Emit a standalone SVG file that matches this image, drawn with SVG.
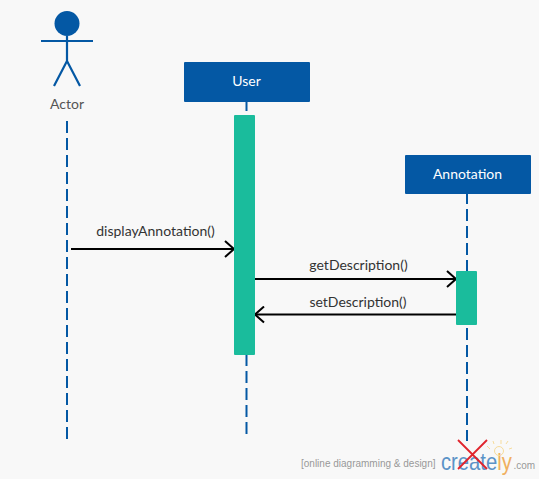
<svg xmlns="http://www.w3.org/2000/svg" width="539" height="479" viewBox="0 0 539 479">
<style>
.bg{fill:#f8f8f8}
.life{fill:none;stroke:#0458a4;stroke-width:2;stroke-dasharray:12 5}
.box{fill:#0458a4}
.act{fill:#1abc9c}
.stick{fill:none;stroke:#0458a4;stroke-width:2.200}
.msg{fill:none;stroke:#000;stroke-width:2}
.head{fill:none;stroke:#000;stroke-width:2}
text{font-family:Lato,"Liberation Sans",sans-serif}
.lab{font-size:14px;fill:#333;text-anchor:middle}
.title{font-size:14px;fill:#fff;text-anchor:middle}
.wm{font-family:"Liberation Sans",sans-serif}
</style>
<defs>
<marker id="arrow" markerUnits="userSpaceOnUse" markerWidth="12" markerHeight="18" refX="10.500" refY="9" orient="auto"><path class="head" d="M1.500 1 L10.500 9 L1.500 17"/></marker>
</defs>
<rect class="bg" width="539" height="479"/>
<g id="connectors">
<path class="life" d="M67 121V439"/>
<path class="life" stroke-dashoffset="3" d="M246.500 102V434"/>
<path class="life" stroke-dashoffset="2" d="M467 194V441"/>
<path class="msg" marker-end="url(#arrow)" d="M71 249H234"/>
<path class="msg" marker-end="url(#arrow)" d="M255 279H456"/>
<path class="msg" marker-end="url(#arrow)" d="M456 314.500H255"/>
<text class="lab" x="155.500" y="236">displayAnnotation()</text>
<text class="lab" x="358.500" y="270">getDescription()</text>
<text class="lab" x="358" y="307">setDescription()</text>
</g>
<g id="actor">
<circle cx="67" cy="23.500" r="12.500" fill="#0458a4"/>
<path class="stick" d="M67 36V61M41 41H93M67 61L54 86M67 61L80 86"/>
<text x="67" y="109" font-size="14" fill="#555" text-anchor="middle">Actor</text>
</g>
<g id="user">
<rect class="box" x="184" y="62" width="126" height="40" rx="1"/>
<text class="title" x="246.500" y="86">User</text>
<rect class="act" x="234" y="115" width="21" height="240" rx="1"/>
</g>
<g id="annotation">
<rect class="box" x="405" y="155" width="126" height="39" rx="1"/>
<text class="title" x="467.500" y="179">Annotation</text>
<rect class="act" x="456" y="271" width="21" height="54" rx="1"/>
</g>
<g id="watermark">
<text class="wm" x="301" y="467" font-size="10" fill="#999">[online diagramming &amp; design]</text>
<text class="wm" transform="translate(441 470) scale(.88 1)" font-size="23" fill="#5b93c7">create<tspan fill="#f0b060">ly</tspan></text>
<text class="wm" x="513.500" y="469" font-size="10" fill="#999">.com</text>
<path d="M458 440L487 469M487 440L458 469" fill="none" stroke="#e0242c" stroke-width="1.800"/>
<path d="M487 446l3 3M501 440l0 4M493 441l1 3M508 441l-2 3M512 448l-3 1" stroke="#f6dc9c" stroke-width="1" fill="none"/>
<circle cx="499" cy="451" r="4.500" fill="none" stroke="#f6dc9c"/>
</g>
</svg>
